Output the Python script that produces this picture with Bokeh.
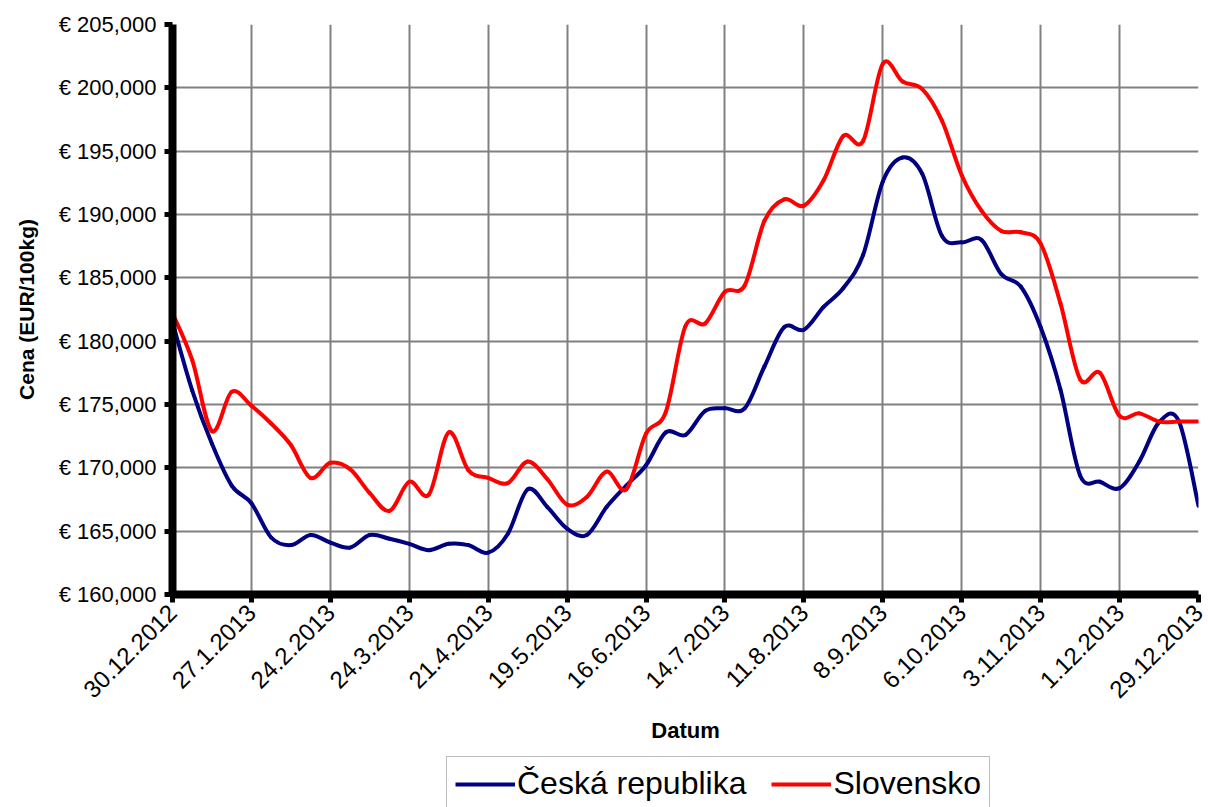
import math
import numpy as np
from bokeh.plotting import figure
from bokeh.layouts import column
from bokeh.models import FixedTicker, Legend, LegendItem, Range1d, ColumnDataSource
from bokeh.embed import file_html
from bokeh.resources import INLINE

# ---- data -----------------------------------------------------------------
weeks = list(range(53))  # weekly observations, 30.12.2012 .. 29.12.2013

x_tick_pos = [0, 4, 8, 12, 16, 20, 24, 28, 32, 36, 40, 44, 48, 52]
x_tick_labels = ["30.12.2012", "27.1.2013", "24.2.2013", "24.3.2013", "21.4.2013",
                 "19.5.2013", "16.6.2013", "14.7.2013", "11.8.2013", "8.9.2013",
                 "6.10.2013", "3.11.2013", "1.12.2013", "29.12.2013"]

y_ticks = [160000, 165000, 170000, 175000, 180000, 185000, 190000, 195000, 200000, 205000]
y_tick_labels = ["€ 160,000", "€ 165,000", "€ 170,000", "€ 175,000", "€ 180,000",
                 "€ 185,000", "€ 190,000", "€ 195,000", "€ 200,000", "€ 205,000"]

ceska_republika = [181500, 176100, 171900, 168600, 167200, 164500, 163900, 164700, 164100,
                   163700, 164700, 164400, 164000, 163500, 164000, 163900, 163300,
                   164800, 168300, 166900, 165200, 164700, 166900, 168600, 170200,
                   172800, 172600, 174500, 174700, 174700, 178000, 181100, 180900,
                   182700, 184200, 186800, 192600, 194500, 193200, 188300, 187800,
                   188000, 185300, 184300, 181100, 176200, 169400, 168900, 168400,
                   170500, 173600, 173700, 167000]

slovensko = [182200, 178500, 172900, 176000, 174900, 173500, 171800, 169200, 170400,
             169900, 168000, 166600, 168900, 167900, 172800, 169800, 169200,
             168800, 170500, 169100, 167100, 167700, 169700, 168300, 172700,
             174400, 181200, 181400, 183900, 184400, 189500, 191200, 190700,
             192700, 196200, 195800, 201900, 200500, 199900, 197400, 193100,
             190300, 188700, 188600, 187700, 183000, 177000, 177500, 174100,
             174300, 173650, 173650, 173650]

series_names = ["Česká republika", "Slovensko"]
series_colors = ["#000080", "#FF0000"]


# smooth (Catmull-Rom -> cubic Bezier) rendering of a series, like a smoothed line
def smooth_segments(xs, ys):
    x = np.asarray(xs, dtype=float)
    y = np.asarray(ys, dtype=float)
    n = len(x)
    idx0 = np.clip(np.arange(n - 1) - 1, 0, n - 1)
    idx1 = np.arange(n - 1)
    idx2 = idx1 + 1
    idx3 = np.clip(idx1 + 2, 0, n - 1)
    return dict(
        x0=x[idx1], y0=y[idx1], x1=x[idx2], y1=y[idx2],
        cx0=x[idx1] + (x[idx2] - x[idx0]) / 6.0,
        cy0=y[idx1] + (y[idx2] - y[idx0]) / 6.0,
        cx1=x[idx2] - (x[idx3] - x[idx1]) / 6.0,
        cy1=y[idx2] - (y[idx3] - y[idx1]) / 6.0,
    )


FONT = "Liberation Sans"

p = figure(frame_width=1026, frame_height=570,
           x_range=Range1d(0, 52), y_range=Range1d(160000, 205000),
           output_backend="svg", toolbar_location=None,
           min_border_left=172, min_border_right=10, min_border_top=24, min_border_bottom=0)

p.outline_line_color = None
p.background_fill_color = "white"
p.border_fill_color = "white"

# axes
xt = FixedTicker(ticks=x_tick_pos, minor_ticks=[])
yt = FixedTicker(ticks=y_ticks, minor_ticks=[])
p.xaxis[0].ticker = xt
p.yaxis[0].ticker = yt
p.xgrid[0].ticker = xt
p.ygrid[0].ticker = yt
p.xaxis.major_label_overrides = dict(zip(x_tick_pos, x_tick_labels))
p.yaxis.major_label_overrides = dict(zip(y_ticks, y_tick_labels))
p.xaxis.major_label_orientation = math.pi / 4

for ax in (p.xaxis, p.yaxis):
    ax.axis_line_color = "black"
    ax.axis_line_width = 8
    ax.major_tick_line_color = "black"
    ax.major_tick_line_width = 5
    ax.major_tick_in = 0
    ax.major_tick_out = 8
    ax.minor_tick_line_color = None
    ax.major_label_text_font = FONT
    ax.major_label_text_color = "black"
    ax.axis_label_text_font = FONT
    ax.axis_label_text_font_style = "bold"
    ax.axis_label_text_color = "black"

p.yaxis.major_label_text_font_size = "22px"
p.yaxis.major_label_standoff = 8
p.yaxis.axis_label = "Cena (EUR/100kg)"
p.yaxis.axis_label_text_font_size = "21px"
p.yaxis.axis_label_standoff = 18

p.xaxis.major_label_text_font_size = "24px"
p.xaxis.major_label_standoff = 6
p.xaxis.axis_label = "Datum"
p.xaxis.axis_label_text_font_size = "22px"
p.xaxis.axis_label_standoff = 10

for g in (p.xgrid, p.ygrid):
    g.grid_line_color = "#808080"
    g.grid_line_width = 2

# series
for name, vals, col in zip(series_names, [ceska_republika, slovensko], series_colors):
    src = ColumnDataSource(smooth_segments(weeks, vals))
    p.bezier(x0="x0", y0="y0", x1="x1", y1="y1", cx0="cx0", cy0="cy0",
             cx1="cx1", cy1="cy1", source=src,
             line_color=col, line_width=4, line_cap="round", line_join="round")

# legend strip below the chart (legend keys only; the key renderers hold no drawable data)
pl = figure(width=1208, height=61, x_range=Range1d(0, 1), y_range=Range1d(0, 1),
            output_backend="svg", toolbar_location=None,
            x_axis_location=None, y_axis_location=None, min_border=0)
pl.outline_line_color = None
pl.xgrid.visible = False
pl.ygrid.visible = False
key_renderers = [pl.line(x=[float("nan")], y=[float("nan")], line_color=col, line_width=4)
                 for col in series_colors]

legend = Legend(items=[LegendItem(label=n, renderers=[r]) for n, r in zip(series_names, key_renderers)],
                orientation="horizontal", location=(274, -4),
                label_text_font=FONT, label_text_font_size="32px", label_text_color="black",
                glyph_width=60, glyph_height=30, label_standoff=2, spacing=25,
                padding=8, margin=0,
                border_line_color="#808080", border_line_width=1,
                background_fill_color="white", background_fill_alpha=1.0)
pl.add_layout(legend)

open("out.html", "w").write(file_html(column(p, pl, spacing=0), INLINE))
